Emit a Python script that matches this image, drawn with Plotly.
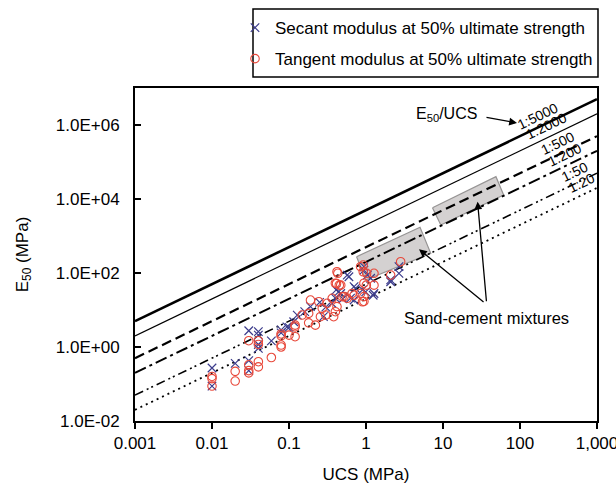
import math
import plotly.graph_objects as go

# ---------------- data ----------------
secant_ucs = [0.01, 0.01, 0.02, 0.03, 0.03, 0.03, 0.04, 0.04, 0.04, 0.04,
              0.059, 0.079, 0.079, 0.094, 0.1, 0.115, 0.128, 0.19, 0.28, 0.36,
              0.47, 0.41, 0.6, 0.73, 0.7, 0.9, 1.04, 1.24, 0.94, 2.09,
              2.68, 2.68, 0.94, 1.15, 0.99, 1.27, 2.09, 0.57, 0.44, 0.70,
              0.63, 0.40, 0.25, 0.3, 0.16, 0.5]
secant_e = [0.27, 0.088, 0.36, 2.75, 0.43, 0.23, 2.6, 2.1, 1.17, 0.92,
            1.46, 2.9, 2.4, 3.5, 3.4, 4.8, 7.3, 12.3, 6.6, 15.2,
            28, 35, 79, 38.5, 18.6, 35, 88, 25, 148, 58,
            148, 98, 120, 72, 31, 28, 65, 88, 31, 43,
            21, 21, 16, 12, 9, 20]

tangent_ucs = [0.01, 0.01, 0.01, 0.02, 0.02, 0.03, 0.03, 0.03, 0.03, 0.04,
               0.04, 0.04, 0.04, 0.059, 0.079, 0.079, 0.079, 0.079, 0.1, 0.12,
               0.12, 0.148, 0.18, 0.12, 0.18, 0.19, 0.22, 0.244, 0.27, 0.3,
               0.256, 0.313, 0.364, 0.40, 0.49, 0.57, 0.43, 0.414, 0.45, 0.7,
               0.94, 0.9, 1.01, 1.27, 0.92, 0.92, 1.27, 2.09, 2.82, 0.85,
               1.02, 0.94, 0.42, 0.40, 0.47, 0.52, 0.66, 0.85, 0.94, 0.42,
               0.38]
tangent_e = [0.16, 0.14, 0.088, 0.22, 0.12, 1.48, 0.33, 0.23, 0.2, 1.48,
             1.17, 0.4, 0.29, 0.52, 2.25, 2.0, 1.13, 1.0, 2.1, 1.9,
             3.5, 7.3, 4.5, 3.9, 8.1, 18.6, 3.9, 16.7, 11.1, 7.3,
             6.6, 15.2, 20.7, 9, 22.9, 20.7, 98, 52, 47, 25,
             23, 16.7, 47, 47, 108, 164, 98, 88, 202, 148,
             98, 53, 108, 53, 47, 23, 28, 28, 17, 12.3,
             6.6]

ratios = [5000, 2000, 500, 200, 50, 20]
ratio_labels = ["1:5000", "1:2000", "1:500", "1:200", "1:50", "1:20"]
ratio_label_ucs = [170, 218, 310, 374, 505, 622]
line_ucs = [0.001, 1000]

# sand-cement mixture regions (corner points, UCS / E50)
box1_ucs = [0.755, 5.03, 6.93, 0.99, 0.755]
box1_e = [276, 1718, 340, 64.7, 276]
box2_ucs = [7.3, 48.7, 61.3, 9.36, 7.3]
box2_e = [5820, 40100, 12800, 1983, 5820]

x_tickvals = [0.001, 0.01, 0.1, 1, 10, 100, 1000]
x_ticktext = ["0.001", "0.01", "0.1", "1", "10", "100", "1,000"]
y_tickvals = [1e-2, 1e0, 1e2, 1e4, 1e6]
y_ticktext = ["1.0E-02", "1.0E+00", "1.0E+02", "1.0E+04", "1.0E+06"]

# ---------------- styles ----------------
FONT = "Liberation Sans, Arial, sans-serif"
W, H = 616, 490
L, R, T, B = 135, 19, 88, 69
PW, PH = W - L - R, H - T - B


def px(xp):
    return (xp - L) / PW


def py(yp):
    return 1 - (yp - T) / PH


line_styles = [
    dict(width=2.6, dash="solid"),
    dict(width=1.2, dash="solid"),
    dict(width=2.2, dash="10px,5px"),
    dict(width=2.0, dash="12px,4px,3px,4px"),
    dict(width=1.6, dash="9px,4px,2px,3px,2px,4px"),
    dict(width=1.8, dash="2px,4px"),
]

fig = go.Figure()

for bu, be in [(box1_ucs, box1_e), (box2_ucs, box2_e)]:
    fig.add_trace(go.Scatter(
        x=bu, y=be, mode="lines", fill="toself",
        fillcolor="rgb(212,209,209)",
        line=dict(color="rgb(150,148,148)", width=1.2),
        showlegend=False, hoverinfo="skip"))

for r, st in zip(ratios, line_styles):
    fig.add_trace(go.Scatter(
        x=line_ucs, y=[r * u for u in line_ucs], mode="lines",
        line=dict(color="black", **st), showlegend=False, hoverinfo="skip"))

fig.add_trace(go.Scatter(
    x=secant_ucs, y=secant_e, mode="markers",
    name="Secant modulus at 50% ultimate strength",
    legendgroup="a",
    marker=dict(symbol="x-thin-open", size=8.5,
                line=dict(color="rgb(60,60,140)", width=1.2),
                color="rgb(60,60,140)")))
fig.add_trace(go.Scatter(
    x=tangent_ucs, y=tangent_e, mode="markers",
    name="Tangent modulus at 50% ultimate strength",
    legendgroup="b",
    marker=dict(symbol="circle-open", size=8.5,
                line=dict(color="rgb(232,72,58)", width=1.1),
                color="rgb(232,72,58)")))

angle = -math.degrees(math.atan(37.0 / 76.8))
for lab, u, r in zip(ratio_labels, ratio_label_ucs, ratios):
    fig.add_annotation(x=math.log10(u), y=math.log10(r * u), text=lab,
                       showarrow=False, textangle=angle, yshift=12,
                       xanchor="center", yanchor="middle",
                       font=dict(size=14, family=FONT, color="black"))

fig.add_annotation(x=1.961, y=6.054, ax=-32, ay=-6, axref="pixel", ayref="pixel",
                   text="", showarrow=True, arrowhead=2, arrowsize=1.2,
                   arrowwidth=1.3, arrowcolor="black")
fig.add_annotation(xref="paper", yref="paper", x=px(446), y=py(114),
                   xanchor="center", yanchor="middle",
                   text="E<sub>50</sub>/UCS", showarrow=False,
                   font=dict(size=16, family=FONT, color="black"))

fig.add_annotation(x=0.689, y=2.641, ax=66, ay=54, axref="pixel", ayref="pixel",
                   text="", showarrow=True, arrowhead=2, arrowsize=1.2,
                   arrowwidth=1.3, arrowcolor="black")
fig.add_annotation(x=1.449, y=3.927, ax=9, ay=101, axref="pixel", ayref="pixel",
                   text="", showarrow=True, arrowhead=2, arrowsize=1.2,
                   arrowwidth=1.3, arrowcolor="black")
fig.add_annotation(xref="paper", yref="paper", x=px(486), y=py(318),
                   xanchor="center", yanchor="middle",
                   text="Sand-cement mixtures", showarrow=False,
                   font=dict(size=16.5, family=FONT, color="black"))

# legend frame
fig.add_shape(type="rect", xref="paper", yref="paper",
              x0=px(253), x1=px(598), y0=py(77), y1=py(9),
              line=dict(color="black", width=1.5), fillcolor="white", layer="below")

fig.update_layout(
    width=W, height=H,
    margin=dict(l=L, r=R, t=T, b=B, autoexpand=False),
    plot_bgcolor="white", paper_bgcolor="white",
    font=dict(family=FONT, size=17, color="black"),
    legend=dict(x=px(235), y=py(10), xanchor="left", yanchor="top",
                borderwidth=0, bgcolor="rgba(0,0,0,0)",
                font=dict(size=17, family=FONT), tracegroupgap=6,
                traceorder="grouped"),
)
fig.update_xaxes(type="log", range=[-3, 3], tickvals=x_tickvals, ticktext=x_ticktext,
                 ticks="outside", ticklen=6, tickwidth=1.5, tickcolor="black",
                 showline=True, linewidth=2, linecolor="black", mirror=True,
                 showgrid=False, zeroline=False, ticklabeloverflow="allow",
                 automargin=False,
                 title=dict(text="UCS (MPa)", font=dict(size=17, family=FONT), standoff=16))
fig.update_yaxes(type="log", range=[-2, 7], tickvals=y_tickvals, ticktext=y_ticktext,
                 ticks="inside", ticklen=6, tickwidth=1.5, tickcolor="black",
                 showline=True, linewidth=2, linecolor="black", mirror=True,
                 showgrid=False, zeroline=False, ticklabelstandoff=10,
                 automargin=False,
                 title=dict(text="E<sub>50</sub> (MPa)", font=dict(size=17, family=FONT), standoff=23))

fig.write_html("out.html")
